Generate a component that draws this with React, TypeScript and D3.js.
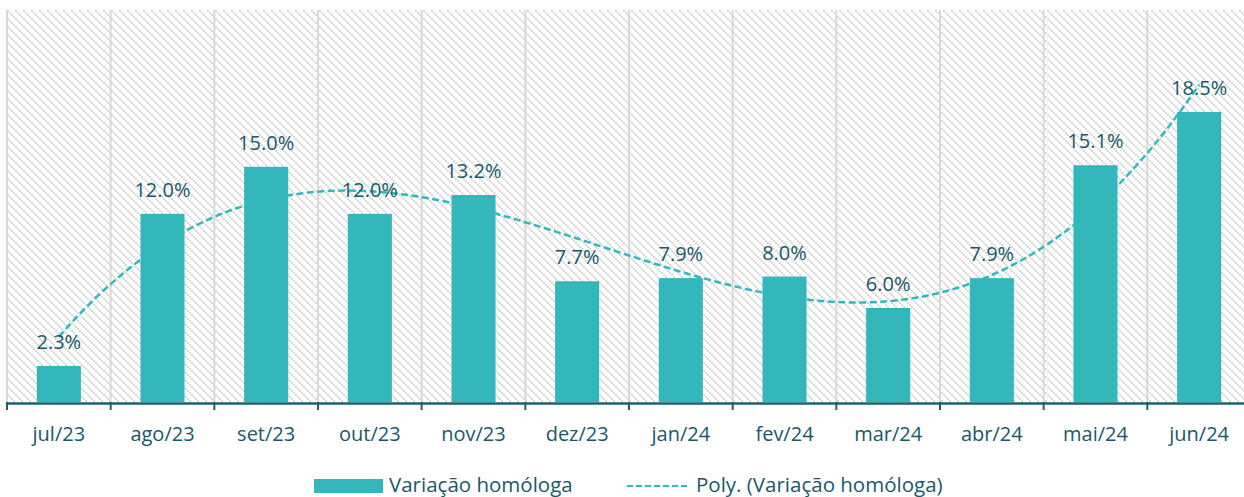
import { useMemo } from "react";
import * as d3 from "d3";

const categories = [
  "jul/23", "ago/23", "set/23", "out/23", "nov/23", "dez/23",
  "jan/24", "fev/24", "mar/24", "abr/24", "mai/24", "jun/24",
];
const values = [2.3, 12.0, 15.0, 12.0, 13.2, 7.7, 7.9, 8.0, 6.0, 7.9, 15.1, 18.5];
const seriesName = "Variação homóloga";
const trendName = "Poly. (Variação homóloga)";
const trendOrder = 3;

const width = 1244;
const height = 497;
const left = 7;
const top = 10;
const bottom = 402;
const right = 1251;

const barColor = "#33b7bb";
const trendColor = "#2fb9c0";
const textColor = "#17596a";
const font = "'Open Sans', sans-serif";

// least squares polynomial fit, like Excel's trendline
function polyFit(ys: number[], order: number) {
  const n = order + 1;
  const A: number[][] = Array.from({ length: n }, () => new Array(n + 1).fill(0));
  ys.forEach((y, i) => {
    const x = (i + 1) / ys.length;
    for (let r = 0; r < n; r++) {
      for (let c = 0; c < n; c++) A[r][c] += Math.pow(x, r + c);
      A[r][n] += y * Math.pow(x, r);
    }
  });
  for (let i = 0; i < n; i++) {
    let p = i;
    for (let k = i + 1; k < n; k++) if (Math.abs(A[k][i]) > Math.abs(A[p][i])) p = k;
    [A[i], A[p]] = [A[p], A[i]];
    for (let k = 0; k < n; k++) {
      if (k === i) continue;
      const f = A[k][i] / A[i][i];
      for (let c = i; c <= n; c++) A[k][c] -= f * A[i][c];
    }
  }
  const coef = A.map((row, i) => row[n] / row[i]);
  return (xi: number) => {
    const x = xi / ys.length;
    return coef.reduce((s, c, k) => s + c * Math.pow(x, k), 0);
  };
}

export default function App() {
  const x = d3.scaleBand<string>().domain(categories).range([left, right]).paddingInner(0).paddingOuter(0);
  const y = d3.scaleLinear().domain([0, 25]).range([bottom, top]);
  const bw = x.bandwidth() * 0.425;

  const trendPath = useMemo(() => {
    const f = polyFit(values, trendOrder);
    const pts = d3.range(1, 12.001, 0.05).map((t) => [
      left + (t - 0.5) * x.bandwidth(),
      y(f(t)),
    ] as [number, number]);
    return d3.line()(pts) || "";
  }, []);

  return (
    <svg width={width} height={height} style={{ position: "absolute", left: 0, top: 0 }}>
      <defs>
        <pattern id="hatch" width="8" height="8" patternUnits="userSpaceOnUse" x={left} y={top}>
          <rect width="8" height="8" fill="#ffffff" />
          {[0, 2, 4, 6].map((k) => (
            <rect key={k} x={k} y={k} width="2" height="2" fill="#d9d9d9" />
          ))}
        </pattern>
      </defs>
      <rect x={left} y={top} width={right - left} height={bottom - top} fill="url(#hatch)" />
      {categories.map((c) => (
        <line key={c} x1={x(c)} x2={x(c)} y1={top} y2={bottom} stroke="#d9d9d9" strokeWidth={2} />
      ))}
      {categories.map((c, i) => (
        <rect
          key={c}
          x={(x(c) as number) + (x.bandwidth() - bw) / 2}
          y={y(values[i])}
          width={bw}
          height={y(0) - y(values[i])}
          fill={barColor}
        />
      ))}
      <path d={trendPath} fill="none" stroke={trendColor} strokeWidth={2.5} strokeDasharray="7,3.5" />
      {categories.map((c, i) => (
        <text
          key={c}
          x={(x(c) as number) + x.bandwidth() / 2}
          y={y(values[i]) - 17}
          textAnchor="middle"
          fontFamily={font}
          fontSize={20}
          fill={textColor}
        >
          {values[i].toFixed(1)}%
        </text>
      ))}
      <line x1={left - 1} x2={right} y1={bottom + 1.5} y2={bottom + 1.5} stroke="#1d6070" strokeWidth={2.5} />
      {categories.map((c) => (
        <line key={c} x1={x(c)} x2={x(c)} y1={bottom} y2={bottom + 8} stroke="#1d6070" strokeWidth={2} />
      ))}
      {categories.map((c) => (
        <text
          key={c}
          x={(x(c) as number) + x.bandwidth() / 2}
          y={441}
          textAnchor="middle"
          fontFamily={font}
          fontSize={20}
          fill={textColor}
        >
          {c}
        </text>
      ))}
      <g fontFamily={font} fontSize={20.5} fill={textColor}>
        <rect x={314} y={479} width={69} height={14} fill={barColor} />
        <text x={389} y={491.5}>{seriesName}</text>
        <line x1={627} x2={690} y1={486} y2={486} stroke={trendColor} strokeWidth={2.2} strokeDasharray="6,3" />
        <text x={696} y={491.5}>{trendName}</text>
      </g>
    </svg>
  );
}
